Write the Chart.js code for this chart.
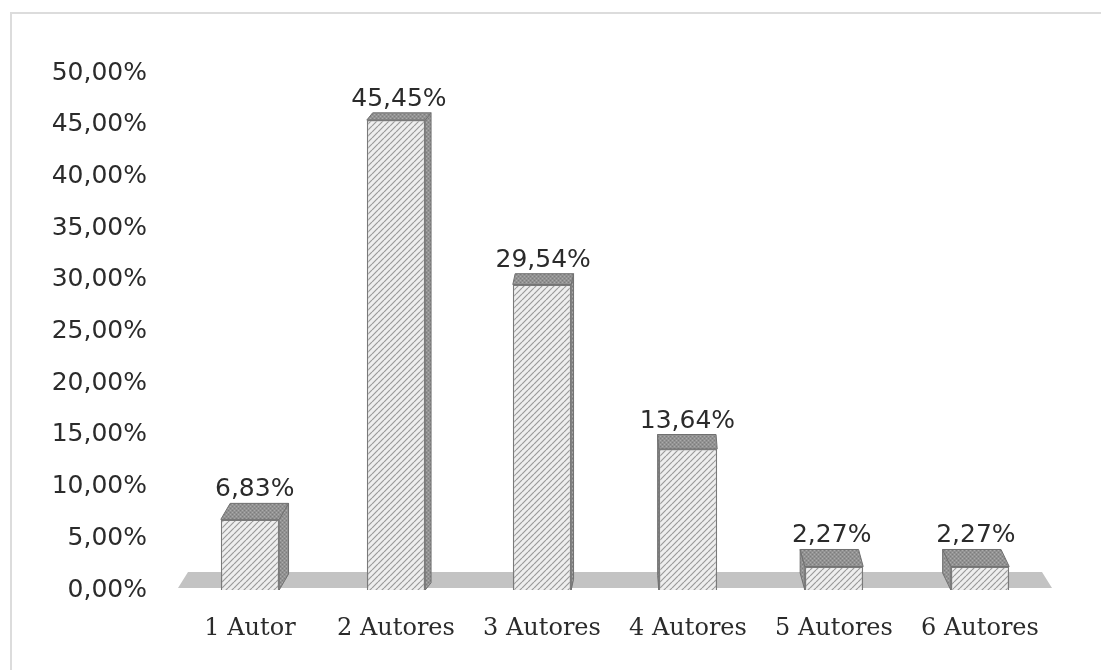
<!DOCTYPE html>
<html>
<head>
<meta charset="utf-8">
<script src="https://cdn.jsdelivr.net/npm/chart.js@4"></script>
<style>
  html, body { margin: 0; padding: 0; background: #ffffff; }
  #wrap { width: 1101px; height: 670px; position: relative; }
</style>
</head>
<body>
<div id="wrap"><canvas id="c" width="1101" height="670"></canvas></div>
<script>
const categories = ["1 Autor", "2 Autores", "3 Autores", "4 Autores", "5 Autores", "6 Autores"];
const shares = [6.83, 45.45, 29.54, 13.64, 2.27, 2.27];
const yTicks = [0, 5, 10, 15, 20, 25, 30, 35, 40, 45, 50];

function fmt(v) { return v.toFixed(2).replace('.', ',') + '%'; }

function makeHatch() {
  const p = document.createElement('canvas');
  p.width = 6; p.height = 6;
  const g = p.getContext('2d');
  g.fillStyle = '#eeeeee';
  g.fillRect(0, 0, 6, 6);
  g.strokeStyle = '#9a9a9a';
  g.lineWidth = 1.2;
  g.beginPath();
  for (let k = -6; k <= 12; k += 6) {
    g.moveTo(k, 6); g.lineTo(k + 6, 0);
  }
  g.stroke();
  return g.createPattern(p, 'repeat');
}
function makeStipple() {
  const p = document.createElement('canvas');
  p.width = 4; p.height = 4;
  const g = p.getContext('2d');
  g.fillStyle = '#929292';
  g.fillRect(0, 0, 4, 4);
  g.fillStyle = '#ababab';
  g.fillRect(0, 0, 1, 1); g.fillRect(2, 2, 1, 1);
  g.fillStyle = '#7c7c7c';
  g.fillRect(2, 0, 1, 1); g.fillRect(0, 2, 1, 1);
  return g.createPattern(p, 'repeat');
}

const ctx0 = document.getElementById('c').getContext('2d');
const hatch = makeHatch();
const stipple = makeStipple();

function depth(bar) {
  const vpX = 640;
  const dx = (vpX - bar.x) * 0.024;
  const dy = 7 + (bar.y - 110) * 0.022;
  return { dx, dy };
}

const deco = {
  id: 'deco',
  beforeDraw(chart) {
    const c = chart.ctx;
    c.save();
    c.strokeStyle = '#dcdcdc';
    c.lineWidth = 2;
    c.strokeRect(11, 13, 1200, 800);
    c.restore();
  },
  beforeDatasetsDraw(chart) {
    const c = chart.ctx, ca = chart.chartArea;
    c.save();
    c.fillStyle = '#c3c3c3';
    c.beginPath();
    c.moveTo(ca.left + 11, ca.bottom - 18);
    c.lineTo(ca.right - 11, ca.bottom - 18);
    c.lineTo(ca.right - 1, ca.bottom - 2);
    c.lineTo(ca.left + 1, ca.bottom - 2);
    c.closePath();
    c.fill();
    const meta = chart.getDatasetMeta(0);
    meta.data.forEach((bar) => {
      const hw = bar.width / 2;
      const x1 = bar.x - hw, x2 = bar.x + hw;
      const top = bar.y, bot = bar.base;
      const { dx, dy } = depth(bar);
      c.fillStyle = stipple;
      c.strokeStyle = '#707070';
      c.lineWidth = 1;
      const sx = dx > 0 ? x2 : x1;
      c.beginPath();
      c.moveTo(sx, top);
      c.lineTo(sx + dx, top - dy);
      c.lineTo(sx + dx, bot - dy);
      c.lineTo(sx, bot);
      c.closePath();
      c.fill(); c.stroke();
      c.beginPath();
      c.moveTo(x1, top);
      c.lineTo(x1 + dx, top - dy);
      c.lineTo(x2 + dx, top - dy);
      c.lineTo(x2, top);
      c.closePath();
      c.fill(); c.stroke();
    });
    c.restore();
  },
  afterDatasetsDraw(chart) {
    const c = chart.ctx;
    const meta = chart.getDatasetMeta(0);
    c.save();
    c.fillStyle = '#2b2b2b';
    c.font = '25px "DejaVu Sans", Verdana, sans-serif';
    c.textAlign = 'center';
    c.textBaseline = 'alphabetic';
    meta.data.forEach((bar, i) => {
      const { dx, dy } = depth(bar);
      c.fillText(fmt(shares[i]), bar.x + dx / 2, bar.y - dy - 7);
    });
    c.restore();
  }
};

new Chart(ctx0, {
  type: 'bar',
  data: {
    labels: categories,
    datasets: [{
      data: shares,
      backgroundColor: hatch,
      borderColor: '#7a7a7a',
      borderWidth: 1.5,
      barPercentage: 0.4,
      categoryPercentage: 1.0
    }]
  },
  options: {
    responsive: false,
    animation: false,
    events: [],
    layout: { padding: { top: 73, left: 10, right: 48, bottom: 0 } },
    plugins: { legend: { display: false }, tooltip: { enabled: false } },
    scales: {
      y: {
        min: 0, max: 50,
        afterBuildTicks(scale) { scale.ticks = yTicks.map(v => ({ value: v })); },
        afterFit(scale) { scale.width = 167; },
        grid: { display: false, drawTicks: false },
        border: { display: false },
        ticks: {
          padding: 30,
          color: '#2b2b2b',
          font: { family: '"DejaVu Sans", Verdana, sans-serif', size: 25 },
          callback: (v) => fmt(v)
        }
      },
      x: {
        afterFit(scale) { scale.height = 80; },
        grid: { display: false, drawTicks: false },
        border: { display: false },
        ticks: {
          padding: 24,
          color: '#2b2b2b',
          maxRotation: 0,
          font: { family: '"DejaVu Serif", "Liberation Serif", serif', size: 24 }
        }
      }
    }
  },
  plugins: [deco]
});
</script>
</body>
</html>
